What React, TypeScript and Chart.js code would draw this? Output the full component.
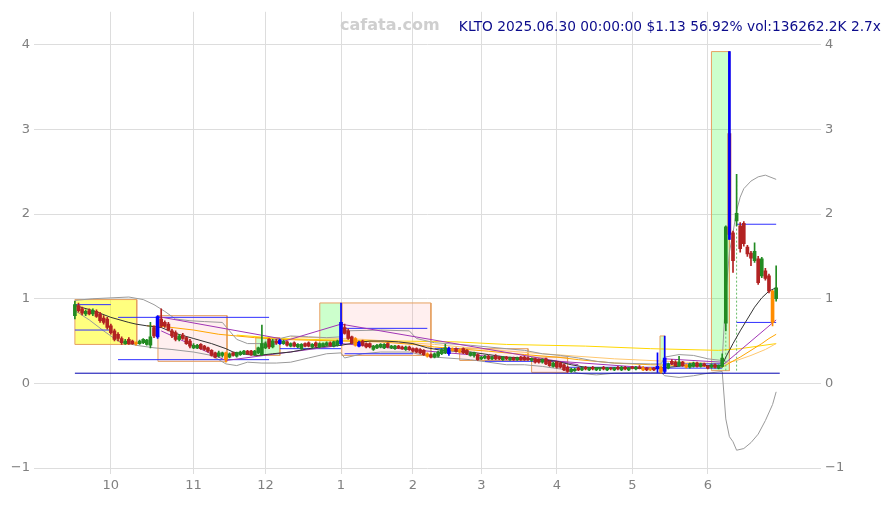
import { useEffect, useRef } from 'react';
import { Chart, registerables } from 'chart.js';

Chart.register(...registerables);

// ---------- axis labels ----------
const MONTH_TICKS = [10, 33, 53, 74, 94, 113, 134, 155, 176];
const MONTH_LABELS = ['10', '11', '12', '1', '2', '3', '4', '5', '6'];
const TITLE_TEXT = 'KLTO 2025.06.30 00:00:00 $1.13 56.92% vol:136262.2K 2.7x';
const WATERMARK = 'cafata.com';

// ---------- daily candles (trading day index 0 = 2024-09-17 ... 195 = 2025-06-30) ----------
const OPEN = [
  0.80, 0.92, 0.88, 0.82, 0.86, 0.82, 0.85, 0.82, 0.77, 0.76, 0.68, 0.62, 0.58, 0.53, 0.47, 0.52, 0.50, 0.47, 0.47, 0.48,
  0.46, 0.45, 0.66, 0.55, 0.76, 0.72, 0.70, 0.62, 0.60, 0.52, 0.57, 0.54, 0.50, 0.42, 0.42, 0.46, 0.44, 0.42, 0.39, 0.36,
  0.32, 0.33, 0.36, 0.31, 0.36, 0.32, 0.34, 0.35, 0.38, 0.38, 0.34, 0.36, 0.34, 0.42, 0.52, 0.43, 0.50, 0.47, 0.47, 0.49,
  0.44, 0.48, 0.43, 0.41, 0.47, 0.48, 0.43, 0.48, 0.43, 0.44, 0.45, 0.48, 0.44, 0.45, 0.47, 0.66, 0.62, 0.55, 0.53, 0.44,
  0.50, 0.47, 0.47, 0.40, 0.42, 0.43, 0.42, 0.47, 0.42, 0.41, 0.44, 0.43, 0.40, 0.43, 0.41, 0.41, 0.40, 0.39, 0.35, 0.34,
  0.31, 0.32, 0.35, 0.36, 0.35, 0.41, 0.41, 0.40, 0.41, 0.39, 0.33, 0.33, 0.34, 0.29, 0.30, 0.32, 0.29, 0.32, 0.31, 0.28,
  0.31, 0.28, 0.30, 0.28, 0.31, 0.31, 0.30, 0.27, 0.29, 0.28, 0.25, 0.29, 0.26, 0.20, 0.25, 0.24, 0.22, 0.19, 0.14, 0.15,
  0.18, 0.16, 0.19, 0.16, 0.19, 0.16, 0.17, 0.19, 0.16, 0.18, 0.16, 0.19, 0.16, 0.19, 0.16, 0.19, 0.17, 0.19, 0.18, 0.18,
  0.17, 0.18, 0.17, 0.18, 0.14, 0.18, 0.26, 0.25, 0.21, 0.25, 0.22, 0.19, 0.20, 0.24, 0.20, 0.23, 0.20, 0.19, 0.22, 0.18,
  0.20, 0.71, 2.95, 1.78, 1.92, 1.86, 1.89, 1.61, 1.54, 1.45, 1.47, 1.27, 1.33, 1.27, 1.09, 1.00,
];
const HIGH = [
  0.97, 0.95, 0.90, 0.87, 0.88, 0.88, 0.87, 0.84, 0.80, 0.78, 0.70, 0.64, 0.60, 0.55, 0.52, 0.54, 0.51, 0.49, 0.51, 0.53,
  0.52, 0.72, 0.68, 0.80, 0.88, 0.74, 0.72, 0.64, 0.62, 0.58, 0.59, 0.55, 0.52, 0.47, 0.46, 0.47, 0.45, 0.43, 0.40, 0.37,
  0.38, 0.37, 0.37, 0.36, 0.37, 0.37, 0.38, 0.39, 0.39, 0.39, 0.39, 0.43, 0.69, 0.49, 0.53, 0.52, 0.52, 0.52, 0.51, 0.50,
  0.48, 0.49, 0.47, 0.47, 0.48, 0.49, 0.47, 0.49, 0.48, 0.48, 0.49, 0.49, 0.50, 0.51, 0.95, 0.70, 0.64, 0.56, 0.54, 0.50,
  0.51, 0.48, 0.48, 0.45, 0.46, 0.47, 0.47, 0.48, 0.45, 0.45, 0.45, 0.44, 0.44, 0.44, 0.42, 0.42, 0.41, 0.40, 0.36, 0.35,
  0.36, 0.38, 0.41, 0.46, 0.43, 0.42, 0.42, 0.41, 0.42, 0.40, 0.37, 0.37, 0.35, 0.32, 0.33, 0.33, 0.32, 0.34, 0.32, 0.32,
  0.32, 0.31, 0.31, 0.31, 0.32, 0.32, 0.31, 0.30, 0.30, 0.29, 0.29, 0.30, 0.27, 0.25, 0.26, 0.25, 0.23, 0.20, 0.18, 0.18,
  0.19, 0.19, 0.20, 0.19, 0.20, 0.19, 0.19, 0.20, 0.19, 0.19, 0.19, 0.20, 0.20, 0.20, 0.19, 0.20, 0.20, 0.21, 0.20, 0.19,
  0.19, 0.19, 0.36, 0.20, 0.56, 0.24, 0.28, 0.27, 0.32, 0.26, 0.23, 0.24, 0.25, 0.25, 0.24, 0.24, 0.21, 0.23, 0.23, 0.22,
  0.35, 1.86, 3.92, 1.80, 2.47, 1.90, 1.91, 1.63, 1.56, 1.66, 1.50, 1.49, 1.36, 1.29, 1.10, 1.39,
];
const LOW = [
  0.76, 0.84, 0.81, 0.80, 0.81, 0.80, 0.78, 0.72, 0.70, 0.64, 0.58, 0.50, 0.50, 0.46, 0.46, 0.46, 0.46, 0.45, 0.46, 0.47,
  0.45, 0.42, 0.54, 0.53, 0.66, 0.66, 0.62, 0.54, 0.50, 0.50, 0.52, 0.46, 0.42, 0.41, 0.41, 0.40, 0.39, 0.37, 0.32, 0.30,
  0.31, 0.31, 0.25, 0.30, 0.32, 0.31, 0.33, 0.34, 0.34, 0.33, 0.33, 0.35, 0.33, 0.41, 0.41, 0.42, 0.46, 0.46, 0.46, 0.44,
  0.43, 0.43, 0.42, 0.40, 0.43, 0.43, 0.42, 0.43, 0.42, 0.43, 0.44, 0.44, 0.43, 0.44, 0.45, 0.58, 0.52, 0.47, 0.44, 0.43,
  0.44, 0.42, 0.42, 0.39, 0.41, 0.42, 0.41, 0.42, 0.41, 0.40, 0.41, 0.40, 0.39, 0.39, 0.37, 0.36, 0.35, 0.33, 0.31, 0.30,
  0.30, 0.31, 0.34, 0.35, 0.33, 0.38, 0.37, 0.36, 0.35, 0.34, 0.32, 0.31, 0.27, 0.28, 0.29, 0.28, 0.28, 0.28, 0.28, 0.27,
  0.28, 0.27, 0.27, 0.27, 0.27, 0.27, 0.27, 0.26, 0.24, 0.24, 0.24, 0.22, 0.20, 0.19, 0.18, 0.18, 0.15, 0.13, 0.13, 0.14,
  0.15, 0.15, 0.16, 0.15, 0.16, 0.15, 0.15, 0.16, 0.15, 0.16, 0.15, 0.16, 0.15, 0.16, 0.15, 0.17, 0.16, 0.17, 0.15, 0.15,
  0.15, 0.15, 0.13, 0.12, 0.12, 0.17, 0.22, 0.20, 0.20, 0.20, 0.18, 0.18, 0.19, 0.19, 0.19, 0.20, 0.17, 0.18, 0.18, 0.17,
  0.19, 0.62, 1.70, 1.31, 1.86, 1.55, 1.62, 1.50, 1.39, 1.43, 1.17, 1.25, 1.22, 1.07, 0.68, 0.97,
];
const CLOSE = [
  0.93, 0.86, 0.83, 0.85, 0.82, 0.86, 0.79, 0.74, 0.72, 0.66, 0.60, 0.52, 0.53, 0.48, 0.50, 0.47, 0.47, 0.48, 0.50, 0.52,
  0.51, 0.55, 0.56, 0.79, 0.68, 0.68, 0.63, 0.56, 0.52, 0.56, 0.53, 0.47, 0.44, 0.45, 0.45, 0.41, 0.40, 0.38, 0.33, 0.31,
  0.36, 0.36, 0.28, 0.35, 0.33, 0.36, 0.37, 0.38, 0.35, 0.34, 0.38, 0.42, 0.47, 0.47, 0.43, 0.50, 0.48, 0.51, 0.50, 0.45,
  0.47, 0.44, 0.46, 0.46, 0.44, 0.44, 0.46, 0.44, 0.47, 0.47, 0.48, 0.45, 0.49, 0.50, 0.72, 0.59, 0.53, 0.48, 0.45, 0.48,
  0.45, 0.43, 0.43, 0.44, 0.45, 0.46, 0.46, 0.43, 0.44, 0.44, 0.42, 0.41, 0.43, 0.40, 0.38, 0.37, 0.36, 0.34, 0.32, 0.31,
  0.35, 0.37, 0.40, 0.42, 0.41, 0.39, 0.38, 0.37, 0.36, 0.35, 0.36, 0.36, 0.28, 0.31, 0.32, 0.29, 0.31, 0.29, 0.29, 0.31,
  0.29, 0.30, 0.28, 0.30, 0.28, 0.28, 0.28, 0.29, 0.25, 0.25, 0.28, 0.23, 0.21, 0.24, 0.19, 0.19, 0.16, 0.14, 0.17, 0.17,
  0.16, 0.18, 0.17, 0.18, 0.17, 0.18, 0.18, 0.17, 0.18, 0.17, 0.18, 0.17, 0.19, 0.17, 0.18, 0.18, 0.19, 0.18, 0.16, 0.16,
  0.16, 0.16, 0.20, 0.14, 0.30, 0.23, 0.23, 0.21, 0.25, 0.21, 0.19, 0.23, 0.24, 0.20, 0.23, 0.21, 0.18, 0.22, 0.19, 0.21,
  0.30, 1.85, 1.76, 1.45, 2.01, 1.59, 1.65, 1.53, 1.48, 1.56, 1.19, 1.47, 1.24, 1.09, 0.72, 1.13,
];
const BLUE_CANDLES = [23, 57, 74, 79, 104, 162, 164];
const BLUE_WICK_CANDLES = [182];
const ORANGE_CANDLES = [17, 42, 78, 98, 105, 107, 158, 160, 163, 170, 194];

// ---------- indicator lines, [day index, price] ----------
const MA20: [number, number][] = [
  [0, .92], [5, .86], [10, .78], [15, .72], [17, .70], [20, .68], [24, .66], [28, .59], [33, .53], [38, .47], [42, .41],
  [44, .37], [48, .34], [51, .33], [55, .35], [60, .37], [65, .41], [70, .44], [74, .45], [78, .48], [82, .50], [86, .50],
  [90, .49], [94, .47], [98, .42], [102, .39], [106, .38], [110, .37], [115, .34], [120, .31], [125, .30], [130, .28],
  [134, .26], [138, .22], [142, .19], [148, .18], [155, .18], [160, .17], [165, .19], [170, .21], [175, .21], [180, .21],
  [181, .31], [183, .47], [185, .62], [187, .76], [189, .90], [191, 1.01], [193, 1.09], [195, 1.13],
];
const BB_UPPER: [number, number][] = [
  [0, .98], [5, 1.0], [10, 1.01], [15, 1.02], [19, .99], [22, .93], [25, .85], [28, .76], [32, .74], [36, .73], [41, .72],
  [43, .62], [45, .52], [48, .47], [52, .47], [56, .52], [60, .56], [65, .55], [70, .54], [74, .55], [75, .62], [85, .63],
  [93, .62], [95, .53], [100, .48], [110, .45], [120, .41], [125, .39], [130, .35], [135, .33], [140, .30], [145, .26],
  [150, .24], [160, .23], [163, .23], [164, .31], [168, .34], [172, .33], [176, .29], [180, .27], [181, 1.05], [182, 1.55],
  [183, 1.78], [184, 2.04], [185, 2.2], [186, 2.3], [188, 2.39], [190, 2.44], [192, 2.46], [195, 2.41],
];
const BB_LOWER: [number, number][] = [
  [0, .86], [4, .75], [8, .62], [12, .50], [17, .45], [22, .42], [27, .40], [33, .37], [38, .33], [42, .23], [45, .21],
  [48, .25], [52, .24], [56, .24], [60, .25], [65, .30], [70, .35], [74, .36], [75, .30], [80, .35], [85, .37], [93, .37],
  [95, .35], [100, .31], [110, .28], [120, .22], [125, .22], [130, .20], [135, .17], [140, .12], [145, .10], [150, .12],
  [160, .13], [163, .13], [164, .09], [168, .07], [172, .09], [176, .12], [180, .14], [181, -.42], [182, -.63], [183, -.69],
  [184, -.79], [186, -.77], [188, -.70], [190, -.60], [192, -.44], [194, -.25], [195, -.10],
];
const MA50: [number, number][] = [
  [20, .68], [25, .67], [33, .63], [40, .58], [50, .54], [57, .52], [65, .51], [74, .50], [85, .49], [94, .46], [100, .43],
  [106, .41], [115, .38], [125, .34], [134, .31], [140, .28], [150, .24], [160, .22], [170, .21], [176, .20], [180, .19],
  [182, .24], [185, .31], [188, .39], [191, .47], [193, .53], [195, .58],
];
const MA_LONG: [number, number][] = [
  [45, .57], [57, .53], [74, .51], [90, .50], [106, .49], [120, .46], [142, .44], [160, .41], [179, .39], [185, .41],
  [190, .44], [195, .47],
];
const MA_MID: [number, number][] = [
  [60, .55], [80, .52], [100, .46], [115, .40], [130, .35], [150, .29], [170, .25], [180, .23], [184, .27], [188, .33],
  [192, .40], [195, .47],
];
// trend lines [i1, v1, i2, v2]
const TREND_LINES = [
  [23, .79, 57, .53], [24, .62, 42, .27], [42, .27, 74, .45], [52, .42, 74, .70], [74, .70, 140, .22],
  [74, .47, 112, .33], [112, .33, 164, .17], [164, .29, 180, .25], [180, .21, 195, .75],
];
// support / resistance segments [i1, i2, price]
const LEVELS = [
  [0, 10, .93], [0, 10, .63], [12, 54, .78], [12, 54, .28], [57, 74, .41], [74, 98, .65], [75, 94, .35],
  [100, 107, .41], [114, 133, .26], [136, 162, .19], [164, 180, .23], [164, 180, .18], [184, 195, 1.88], [184, 195, .72],
];
const BASE_LEVEL = [0, 196, .12];
// zones [i1, i2, bottom, top, kind]
const ZONES: [number, number, number, number, string][] = [
  [0, 17.2, .46, .99, 'y'], [23.1, 42.3, .26, .80, 'p'], [50.3, 57, .33, .54, 'g'], [68.1, 74.2, .45, .95, 'g'],
  [74.2, 99, .33, .95, 'p'], [107, 126, .27, .41, 'p'], [127, 137, .13, .31, 'p'], [162.7, 164, .12, .56, 'g'],
  [177, 182, .15, 3.92, 'g'],
];
// dotted markers [i, from, to]
const MARKERS = [[181, .15, .71], [184, .15, 2.39]];

const GREEN = '#228b22';
const RED = '#b22222';
const ORANGE = '#ff8c00';
const BLUE = '#0000ff';
const ZONE_FILL: Record<string, string> = {
  y: 'rgba(255,255,0,0.5)',
  p: 'rgba(255,120,120,0.12)',
  g: 'rgba(0,255,0,0.2)',
};

const xy = (pts: [number, number][]) => pts.map(([x, y]) => ({ x, y }));

export default function App() {
  const ref = useRef<HTMLCanvasElement>(null);

  useEffect(() => {
    const canvas = ref.current;
    if (!canvas) return;
    const idx = OPEN.map((_, i) => i);
    const bodyColor = (i: number) => {
      if (BLUE_CANDLES.includes(i)) return BLUE;
      if (ORANGE_CANDLES.includes(i)) return ORANGE;
      return CLOSE[i] >= OPEN[i] ? GREEN : RED;
    };

    const line = (data: any[], color: string, order: number, extra: any = {}) => ({
      type: 'line',
      data,
      borderColor: color,
      borderWidth: 1,
      pointRadius: 0,
      fill: false,
      tension: 0,
      order,
      ...extra,
    });

    const datasets: any[] = [];

    // candles
    datasets.push({
      type: 'bar',
      data: BLUE_WICK_CANDLES.map((i) => ({ x: i, y: [LOW[i], HIGH[i]] })),
      backgroundColor: BLUE,
      barThickness: 2,
      grouped: false,
      order: 1,
    });
    datasets.push({
      type: 'bar',
      data: idx.map((i) => ({ x: i, y: [OPEN[i], CLOSE[i]] })),
      backgroundColor: idx.map(bodyColor),
      barThickness: 3,
      minBarLength: 1,
      grouped: false,
      order: 2,
    });
    datasets.push({
      type: 'bar',
      data: idx.map((i) => ({ x: i, y: [LOW[i], HIGH[i]] })),
      backgroundColor: idx.map((i) => (BLUE_CANDLES.includes(i) ? BLUE : bodyColor(i))),
      barThickness: 1,
      grouped: false,
      order: 3,
    });

    // indicators
    datasets.push(line(xy(MA20), '#333333', 4));
    datasets.push(line(xy(BB_UPPER), '#9a9a9a', 6));
    datasets.push(line(xy(BB_LOWER), '#9a9a9a', 6));
    datasets.push(line(xy(MA50), '#ffa500', 7));
    datasets.push(line(xy(MA_MID), '#ffc870', 8));
    datasets.push(line(xy(MA_LONG), '#ffd700', 8));
    TREND_LINES.forEach(([a, va, b, vb]) => {
      datasets.push(line([{ x: a, y: va }, { x: b, y: vb }], '#a035b5', 5));
    });
    LEVELS.forEach(([a, b, v]) => {
      datasets.push(line([{ x: a, y: v }, { x: b, y: v }], '#3030ff', 5));
    });
    datasets.push(line([{ x: BASE_LEVEL[0], y: BASE_LEVEL[2] }, { x: BASE_LEVEL[1], y: BASE_LEVEL[2] }], '#0000b0', 5));
    MARKERS.forEach(([i, a, b]) => {
      datasets.push(line([{ x: i, y: a }, { x: i, y: b }], '#66bb66', 5, { borderDash: [2, 2] }));
    });

    // zones
    ZONES.forEach(([a, b, lo, hi, kind]) => {
      datasets.push(line([{ x: a, y: hi }, { x: b, y: hi }], 'rgba(0,0,0,0)', 100, {
        borderWidth: 0,
        fill: { value: lo },
        backgroundColor: ZONE_FILL[kind],
      }));
      datasets.push(line(
        [{ x: a, y: lo }, { x: a, y: hi }, { x: b, y: hi }, { x: b, y: lo }, { x: a, y: lo }],
        '#e6a060', 90,
      ));
    });

    const tickFont = { family: 'DejaVu Sans', size: 13 };
    const yTicks = {
      stepSize: 1,
      includeBounds: false,
      color: '#808080',
      font: tickFont,
      padding: 4,
      callback: (v: any) => (v < 0 ? '\u2212' + Math.abs(v) : String(v)),
    };

    const chart = new Chart(canvas, {
      type: 'bar',
      data: { datasets },
      options: {
        animation: false,
        responsive: false,
        devicePixelRatio: 1,
        events: [],
        layout: { padding: { top: 10, left: 0, right: 0, bottom: 0 } },
        plugins: { legend: { display: false }, tooltip: { enabled: false }, title: { display: false } },
        scales: {
          x: {
            type: 'linear',
            min: -9.7,
            max: 205.8,
            offset: false,
            grid: { color: '#dddddd', offset: false, tickLength: 6 },
            border: { display: false },
            afterBuildTicks: (s: any) => {
              s.ticks = MONTH_TICKS.map((v) => ({ value: v }));
            },
            afterFit: (s: any) => {
              s.height = 37;
            },
            ticks: {
              autoSkip: false,
              maxRotation: 0,
              color: '#808080',
              font: tickFont,
              padding: 4,
              callback: (_v: any, k: number) => MONTH_LABELS[k],
            },
          },
          y: {
            type: 'linear',
            position: 'left',
            min: -1,
            max: 4.39,
            grid: { color: '#dddddd', tickLength: 6 },
            border: { display: false },
            ticks: yTicks,
            afterFit: (s: any) => {
              s.width = 40;
            },
          },
          y2: {
            type: 'linear',
            position: 'right',
            min: -1,
            max: 4.39,
            grid: { color: '#dddddd', tickLength: 6, drawOnChartArea: false },
            border: { display: false },
            ticks: yTicks,
            afterFit: (s: any) => {
              s.width = 76;
            },
          },
        },
      } as any,
    });
    return () => chart.destroy();
  }, []);

  return (
    <div style={{ position: 'absolute', left: 0, top: 0, width: 891, height: 505, background: '#fff' }}>
      <canvas ref={ref} width={891} height={505} style={{ display: 'block' }} />
      <div
        style={{
          position: 'absolute', left: 340, top: 16, fontFamily: 'DejaVu Sans', fontWeight: 'bold',
          fontSize: 16, lineHeight: '18px', color: '#cfcfcf', whiteSpace: 'nowrap',
        }}
      >
        {WATERMARK}
      </div>
      <div
        style={{
          position: 'absolute', right: 10, top: 17, fontFamily: 'DejaVu Sans', fontSize: 13.75,
          lineHeight: '18px', color: '#0c0c8c', whiteSpace: 'nowrap',
        }}
      >
        {TITLE_TEXT}
      </div>
    </div>
  );
}
